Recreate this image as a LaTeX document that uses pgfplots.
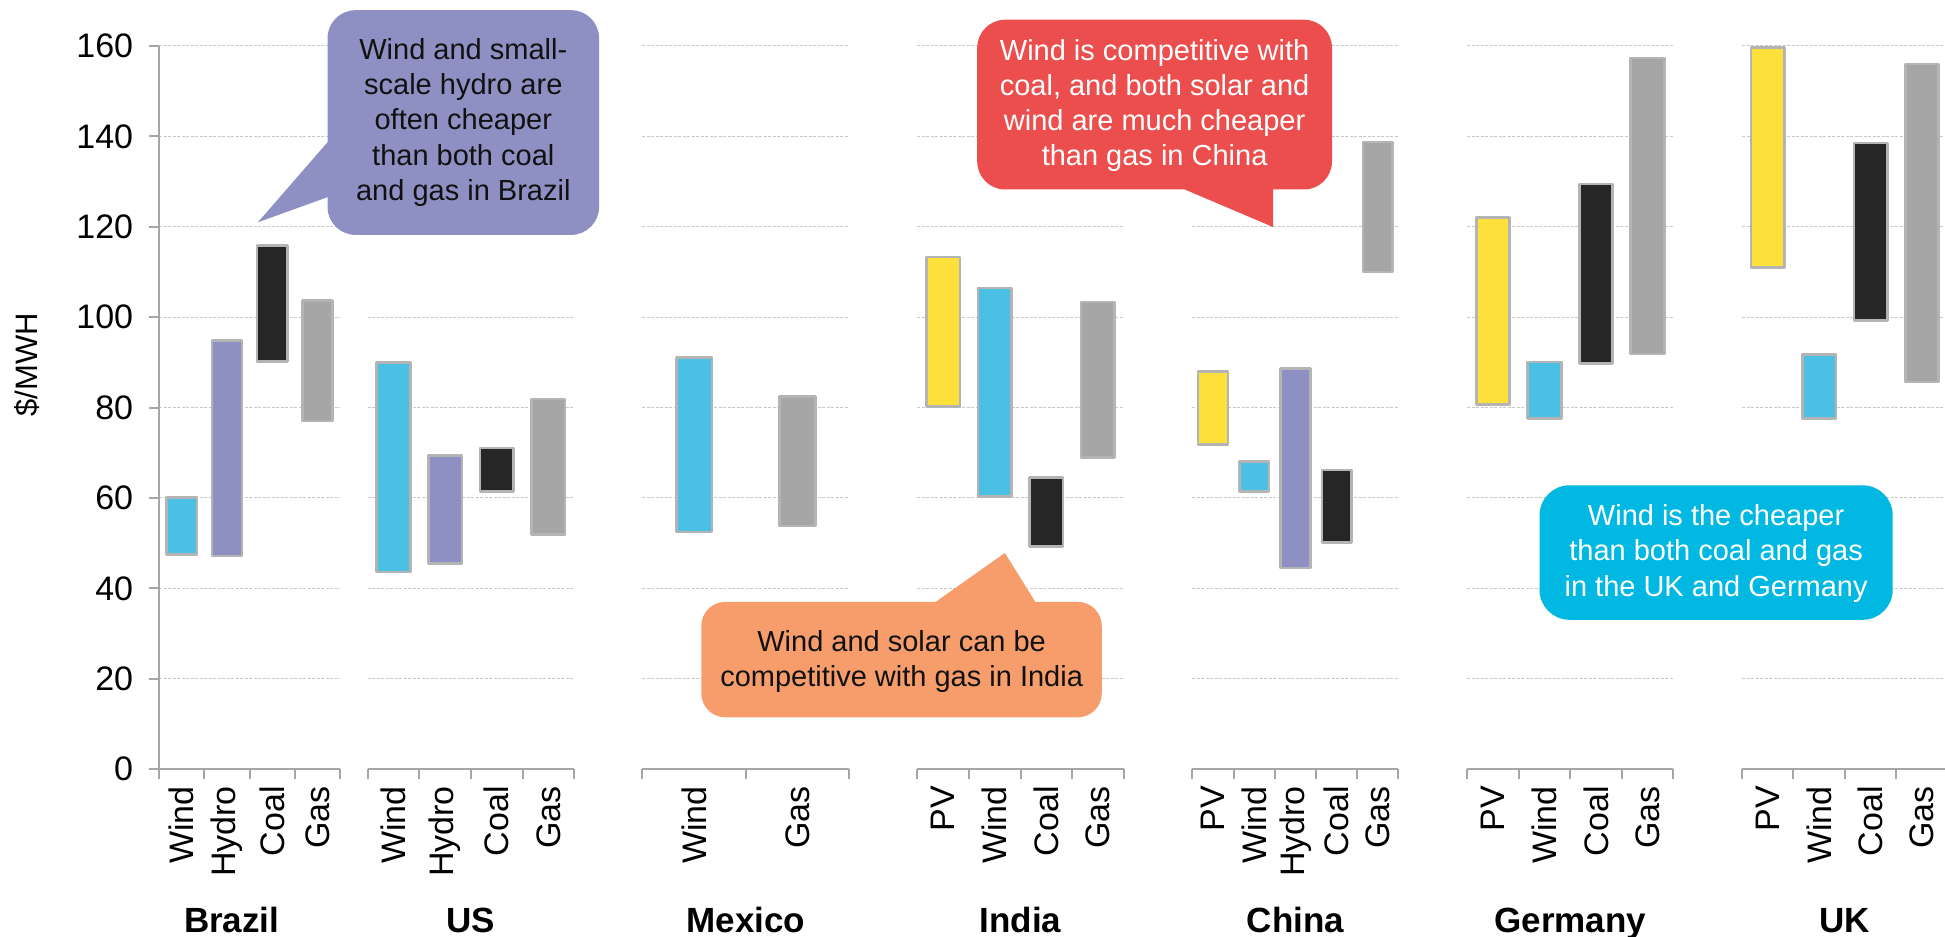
\documentclass[border=0pt]{standalone}
\usepackage{fontspec}
\setmainfont{Liberation Sans}
\usepackage{pgfplots}
\pgfplotsset{compat=1.18}

\definecolor{windc}{HTML}{4BC0E5}
\definecolor{hydroc}{HTML}{8E90C3}
\definecolor{coalc}{HTML}{262626}
\definecolor{gasc}{HTML}{A6A6A6}
\definecolor{pvc}{HTML}{FDE03A}
\definecolor{edgec}{HTML}{B4B4B4}
\definecolor{axisc}{HTML}{A6A6A6}
\definecolor{gridc}{HTML}{C8C8C8}
\definecolor{textc}{HTML}{111111}
\definecolor{calloutpurple}{HTML}{8E90C3}
\definecolor{calloutred}{HTML}{EB4E4D}
\definecolor{calloutorange}{HTML}{F79D6B}
\definecolor{calloutcyan}{HTML}{00B8E2}

\newcommand\callfont{\fontsize{14.5}{17.65}\selectfont}

% one floating bar: colour, left x, right x, low, high
\newcommand\rng[5]{\addplot[rangebar, fill=#1] coordinates {(#2,#4) (#3,#4) (#3,#5) (#2,#5)} -- cycle;}

\pgfplotsset{
  panel/.style={
    scale only axis, height=361.6pt, anchor=south west,
    ymin=0, ymax=160, ytick={0,20,...,160},
    axis x line*=bottom, axis y line*=left,
    x axis line style={-, draw=axisc, line width=1pt},
    y axis line style={-, draw=axisc, line width=1pt},
    tick align=outside, major tick length=5pt, minor tick length=5pt,
    major x tick style={draw=none},
    minor x tick style={draw=axisc, line width=1pt},
    ytick style={draw=axisc, line width=1pt},
    ymajorgrids,
    major grid style={draw=gridc, line width=0.5pt, dash pattern=on 1.5pt off 0.75pt},
    xticklabel style={rotate=90, anchor=east, font=\fontsize{17}{17}\selectfont, text=black},
    yticklabel style={font=\fontsize{17}{17}\selectfont, text=black},
    yticklabel shift=4.5pt,
    /pgf/number format/assume math mode=true,
    xlabel style={at={(axis description cs:0.5,0)}, anchor=base, yshift=-81.75pt,
      font=\bfseries\fontsize{17.5}{17.5}\selectfont, text=black},
    clip=false,
  },
  inner panel/.style={y axis line style={draw=none}, ytick style={draw=none}, yticklabels={}},
  rangebar/.style={draw=edgec, line width=1.3pt, line join=round},
}

\begin{document}
\begin{tikzpicture}
\path[use as bounding box] (0,0) rectangle (972.5pt,468.5pt);

% Brazil
\begin{axis}[panel, at={(79.6pt,83.9pt)}, width=90.4pt,
  xmin=-0.5, xmax=3.5, xtick={0,1,2,3}, xticklabels={Wind,Hydro,Coal,Gas},
  minor xtick={-0.5,0.5,1.5,2.5,3.5}, xlabel={Brazil},
  xlabel style={at={(axis description cs:0.401,0)}},
  ylabel={\$/MWH},
  ylabel style={at={(axis description cs:-0.733,0.559)}, anchor=center,
    font=\fontsize{15.5}{15.5}\selectfont, text=black}]
\rng{windc}{-0.335}{0.335}{47.5}{60.1}
\rng{hydroc}{0.665}{1.335}{47.2}{94.8}
\rng{coalc}{1.665}{2.335}{90.2}{115.9}
\rng{gasc}{2.665}{3.335}{77.0}{103.7}
\end{axis}

% US
\begin{axis}[panel, inner panel, at={(183.85pt,83.9pt)}, width=103.25pt,
  xmin=-0.5, xmax=3.5, xtick={0,1,2,3}, xticklabels={Wind,Hydro,Coal,Gas},
  minor xtick={-0.5,0.5,1.5,2.5,3.5}, xlabel={US}]
\rng{windc}{-0.325}{0.325}{43.6}{90.0}
\rng{hydroc}{0.675}{1.325}{45.5}{69.4}
\rng{coalc}{1.675}{2.325}{61.4}{71.1}
\rng{gasc}{2.675}{3.325}{51.9}{81.9}
\end{axis}

% Mexico
\begin{axis}[panel, inner panel, at={(321.2pt,83.9pt)}, width=103.35pt,
  xmin=-0.5, xmax=1.5, xtick={0,1}, xticklabels={Wind,Gas},
  minor xtick={-0.5,0.5,1.5}, xlabel={Mexico}]
\rng{windc}{-0.173}{0.173}{52.5}{91.1}
\rng{gasc}{0.827}{1.173}{53.8}{82.5}
\end{axis}

% India
\begin{axis}[panel, inner panel, at={(458.7pt,83.9pt)}, width=103.15pt,
  xmin=-0.5, xmax=3.5, xtick={0,1,2,3}, xticklabels={PV,Wind,Coal,Gas},
  minor xtick={-0.5,0.5,1.5,2.5,3.5}, xlabel={India}]
\rng{pvc}{-0.325}{0.325}{80.2}{113.3}
\rng{windc}{0.675}{1.325}{60.3}{106.5}
\rng{coalc}{1.675}{2.325}{49.3}{64.5}
\rng{gasc}{2.675}{3.325}{68.9}{103.4}
\end{axis}

% China
\begin{axis}[panel, inner panel, at={(596.2pt,83.9pt)}, width=103.05pt,
  xmin=-0.5, xmax=4.5, xtick={0,1,2,3,4}, xticklabels={PV,Wind,Hydro,Coal,Gas},
  minor xtick={-0.5,0.5,1.5,2.5,3.5,4.5}, xlabel={China}]
\rng{pvc}{-0.36}{0.36}{71.8}{88.0}
\rng{windc}{0.64}{1.36}{61.4}{68.1}
\rng{hydroc}{1.64}{2.36}{44.5}{88.6}
\rng{coalc}{2.64}{3.36}{50.1}{66.2}
\rng{gasc}{3.64}{4.36}{110.0}{138.8}
\end{axis}

% Germany
\begin{axis}[panel, inner panel, at={(733.6pt,83.9pt)}, width=103.05pt,
  xmin=-0.5, xmax=3.5, xtick={0,1,2,3}, xticklabels={PV,Wind,Coal,Gas},
  minor xtick={-0.5,0.5,1.5,2.5,3.5}, xlabel={Germany}]
\rng{pvc}{-0.325}{0.325}{80.7}{122.0}
\rng{windc}{0.675}{1.325}{77.6}{90.1}
\rng{coalc}{1.675}{2.325}{89.8}{129.5}
\rng{gasc}{2.675}{3.325}{91.9}{157.3}
\end{axis}

% UK
\begin{axis}[panel, inner panel, at={(871pt,83.9pt)}, width=102.85pt,
  xmin=-0.5, xmax=3.5, xtick={0,1,2,3}, xticklabels={PV,Wind,Coal,Gas},
  minor xtick={-0.5,0.5,1.5,2.5,3.5}, xlabel={UK}]
\rng{pvc}{-0.325}{0.325}{111.0}{159.7}
\rng{windc}{0.675}{1.325}{77.6}{91.7}
\rng{coalc}{1.675}{2.325}{99.3}{138.5}
\rng{gasc}{2.675}{3.325}{85.7}{156.0}
\end{axis}

% speech-bubble notes
\begin{scope}[x=0.5pt, y=-0.5pt, shift={(0pt,468.5pt)}]
  \fill[calloutpurple, rounded corners=14pt] (327.5,10.2) rectangle (599.1,234.9);
  \fill[calloutpurple] (257.9,222.3) -- (327.5,142.3) -- (345,142.3) -- (345,197.2) -- (327.5,197.2) -- cycle;
  \node[align=center, text=textc, font=\callfont] at (463.3,122.5)
    {Wind and small-\\scale hydro are\\often cheaper\\than both coal\\and gas in Brazil};

  \fill[calloutred, rounded corners=14pt] (977.2,19.7) rectangle (1332,189.5);
  \fill[calloutred] (1184.8,175) -- (1184.8,189.5) -- (1273.2,227.1) -- (1273.2,175) -- cycle;
  \node[align=center, text=white, font=\callfont] at (1154.6,105.5)
    {Wind is competitive with\\coal, and both solar and\\wind are much cheaper\\than gas in China};

  \fill[calloutorange, rounded corners=12pt] (701.3,601.9) rectangle (1101.8,717.3);
  \fill[calloutorange] (935.7,615) -- (935.7,601.9) -- (1004.9,552.9) -- (1035.3,601.9) -- (1035.3,615) -- cycle;
  \node[align=center, text=textc, font=\callfont] at (901.6,661.4)
    {Wind and solar can be\\competitive with gas in India};

  \fill[calloutcyan, rounded corners=15pt] (1539.5,485.3) rectangle (1892.7,619.8);
  \node[align=center, text=white, font=\callfont] at (1716.1,553.3)
    {Wind is the cheaper\\than both coal and gas\\in the UK and Germany};
\end{scope}
\end{tikzpicture}
\end{document}
